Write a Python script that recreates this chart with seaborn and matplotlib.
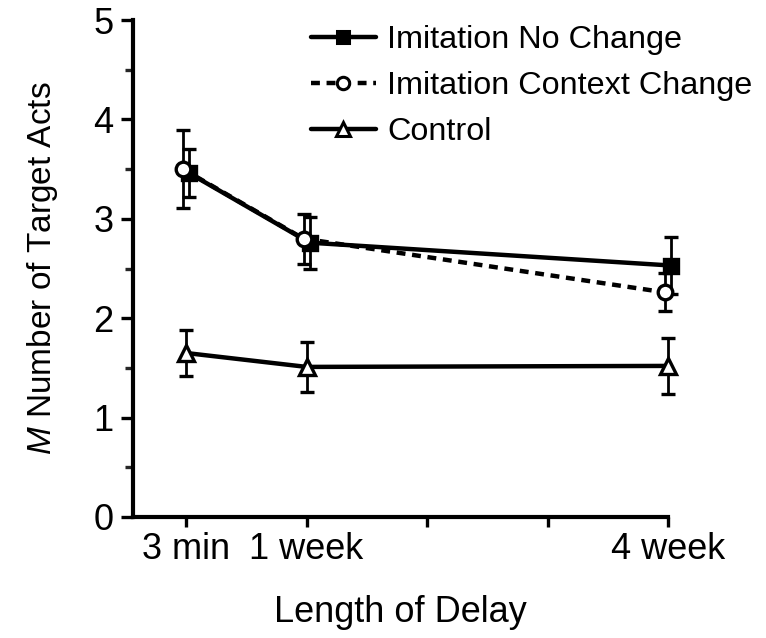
import numpy as np
import pandas as pd
import matplotlib
matplotlib.use("Agg")
import matplotlib.pyplot as plt
import seaborn as sns
from matplotlib.lines import Line2D
from matplotlib.ticker import MultipleLocator, FixedLocator

# ---- data ----
delay_weeks = [0, 1, 4]
tick_positions = [0, 1, 2, 3, 4]
tick_labels = ["3 min", "1 week", "", "", "4 week"]
groups = ["Imitation No Change", "Imitation Context Change", "Control"]
no_change_mean = [3.46, 2.76, 2.53]
no_change_se = [0.24, 0.26, 0.29]
context_mean = [3.50, 2.80, 2.26]
context_se = [0.39, 0.25, 0.19]
control_mean = [1.65, 1.51, 1.52]
control_se = [0.23, 0.25, 0.28]

means = [no_change_mean, context_mean, control_mean]
ses = [no_change_se, context_se, control_se]

rows = []
for g, m, s in zip(groups, means, ses):
    for x, mv, sv in zip(delay_weeks, m, s):
        rows.append({"group": g, "delay": x, "mean": mv, "se": sv})
df = pd.DataFrame(rows)

sns.set_theme(style="ticks")
plt.rcParams["font.family"] = ["Liberation Sans", "DejaVu Sans"]
plt.rcParams["mathtext.fontset"] = "custom"
plt.rcParams["mathtext.it"] = "Liberation Sans:italic"
plt.rcParams["mathtext.rm"] = "Liberation Sans"
plt.rcParams["text.color"] = "black"

fig = plt.figure(figsize=(7.66, 6.38), dpi=100)
ax = fig.add_axes([133 / 766, 1 - 517 / 638, (668 - 133) / 766, (517 - 20) / 638])

styles = {
    "Imitation No Change": dict(marker="s", mfc="black", ms=9.5, dashes=None, offset=0.025),
    "Imitation Context Change": dict(marker="o", mfc="white", ms=10.5, dashes=(2.0, 1.5), offset=-0.025),
    "Control": dict(marker="^", mfc="white", ms=12, dashes=None, offset=0.0),
}

LW = 3.2
for g in groups:
    st = styles[g]
    sub = df[df["group"] == g].copy()
    sub["xpos"] = sub["delay"] + st["offset"]
    ax.errorbar(sub["xpos"], sub["mean"], yerr=sub["se"], fmt="none",
                ecolor="black", elinewidth=2.0, capsize=5, capthick=2.4,
                zorder=2, clip_on=False)
    sns.lineplot(data=sub, x="xpos", y="mean", color="black", linewidth=LW,
                 marker=st["marker"], markersize=st["ms"], markerfacecolor=st["mfc"],
                 markeredgecolor="black", markeredgewidth=2.4, ax=ax,
                 errorbar=None, legend=False, zorder=3, clip_on=False)
    line = ax.lines[-1]
    if st["dashes"] is not None:
        line.set_dashes(st["dashes"])

ax.set_xlim(-0.44, 4.0)
ax.set_ylim(0, 5)
ax.xaxis.set_major_locator(FixedLocator(tick_positions))
ax.set_xticklabels(tick_labels)
ax.yaxis.set_major_locator(MultipleLocator(1))
ax.yaxis.set_minor_locator(MultipleLocator(0.5))
ax.tick_params(axis="both", which="major", direction="out", length=9, width=2.4,
               labelsize=26, colors="black", pad=5)
ax.tick_params(axis="y", which="minor", direction="out", length=5.5, width=2.4)
ax.tick_params(axis="x", which="major", length=7, pad=4)
for side in ["top", "right"]:
    ax.spines[side].set_visible(False)
for side in ["left", "bottom"]:
    ax.spines[side].set_linewidth(3.0)
    ax.spines[side].set_color("black")

ax.set_xlabel("Length of Delay", fontsize=26, labelpad=20, color="black")
ax.set_ylabel(r"$M$ Number of Target Acts", fontsize=24, labelpad=24, color="black")

handles = []
for g in groups:
    st = styles[g]
    h = Line2D([], [], color="black", linewidth=LW, marker=st["marker"],
               markersize=st["ms"] * 0.85, markerfacecolor=st["mfc"],
               markeredgecolor="black", markeredgewidth=2.2)
    if st["dashes"] is not None:
        h.set_dashes(st["dashes"])
    handles.append(h)
fig.legend(handles, groups, loc="upper left", bbox_to_anchor=(298 / 766, 1 - 12 / 638),
           frameon=False, fontsize=23.3, handlelength=2.0, handletextpad=0.35,
           labelspacing=0.5, borderaxespad=0, labelcolor="black")

fig.savefig("out.png", dpi=100)
